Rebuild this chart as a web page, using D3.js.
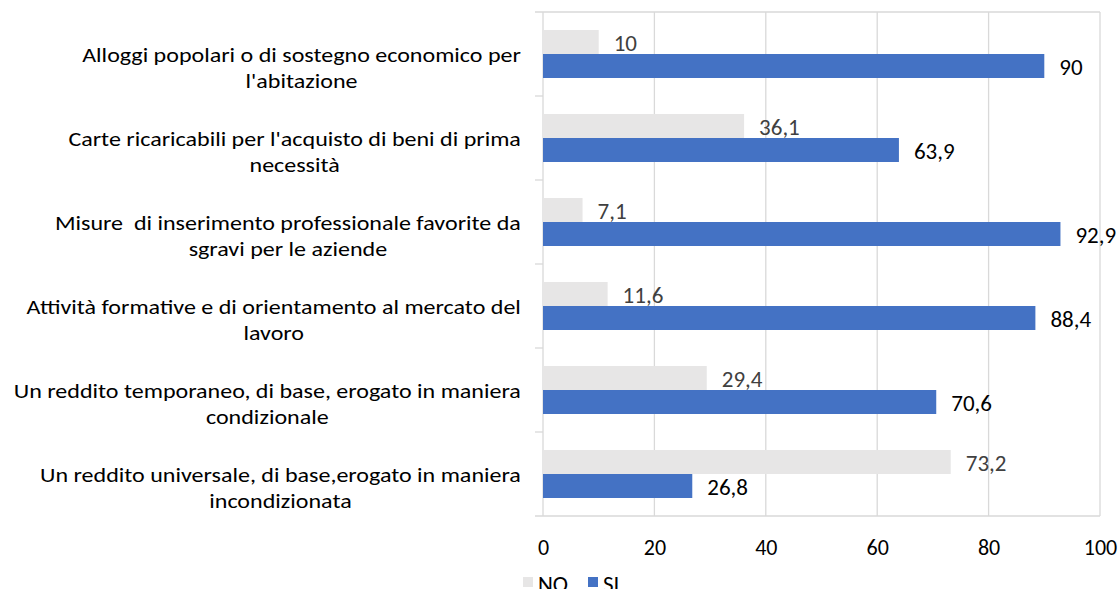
<!DOCTYPE html>
<html>
<head>
<meta charset="utf-8">
<script src="https://cdn.jsdelivr.net/npm/d3@7"></script>
<style>
  html, body { margin: 0; padding: 0; background: #fff; }
  svg { display: block; font-family: Carlito, Calibri, Lato, sans-serif; }
  .cat { white-space: pre; }
</style>
</head>
<body>
<svg id="chart" width="1119" height="589"></svg>
<script>
// Survey answers per measure (percent)
const categories = [
  ["Alloggi popolari o di sostegno economico per", "l'abitazione"],
  ["Carte ricaricabili per l'acquisto di beni di prima", "necessità"],
  ["Misure  di inserimento professionale favorite da", "sgravi per le aziende"],
  ["Attività formative e di orientamento al mercato del", "lavoro"],
  ["Un reddito temporaneo, di base, erogato in maniera", "condizionale"],
  ["Un reddito universale, di base,erogato in maniera", "incondizionata"]
];
const seriesNames = ["NO", "SI"];
const noValues = [10, 36.1, 7.1, 11.6, 29.4, 73.2];
const siValues = [90, 63.9, 92.9, 88.4, 70.6, 26.8];
const xTicks = [0, 20, 40, 60, 80, 100];

const colors = { NO: "#E7E6E6", SI: "#4472C4" };
const labelColors = { NO: "#404040", SI: "#000000" };

const svg = d3.select("#chart");
const plotLeft = 543, plotRight = 1100, plotTop = 12, plotBottom = 516;
const catFont = 21, catStretch = 1.145, valueFont = 23, tickFont = 22, legendFont = 23;
const gridColor = "#D9D9D9";

const x = d3.scaleLinear().domain([0, 100]).range([plotLeft, plotRight]);
const keys = categories.map((c, i) => i);
const y = d3.scaleBand().domain(keys).range([plotTop, plotBottom])
  .paddingInner(0.42857).paddingOuter(0.21429);
const ySub = d3.scaleBand().domain(seriesNames).range([0, y.bandwidth()]);

const rows = keys.map(i => ({ i, NO: noValues[i], SI: siValues[i] }));

// Vertical gridlines
svg.append("g")
  .selectAll("line")
  .data(xTicks.slice(1))
  .join("line")
  .attr("x1", d => x(d)).attr("x2", d => x(d))
  .attr("y1", plotTop).attr("y2", plotBottom)
  .attr("stroke", gridColor).attr("stroke-width", 1.3);

// Category axis: tick marks between groups, top and bottom edges run across the plot
const step = y.step();
const bounds = d3.range(categories.length + 1).map(k => plotTop + k * step);
svg.append("g")
  .selectAll("line")
  .data(bounds)
  .join("line")
  .attr("x1", plotLeft - 8)
  .attr("x2", (d, k) => (k === 0 || k === categories.length) ? plotRight : plotLeft)
  .attr("y1", d => d).attr("y2", d => d)
  .attr("stroke", gridColor).attr("stroke-width", 1.3);
svg.append("line")
  .attr("x1", plotLeft).attr("x2", plotLeft).attr("y1", plotTop).attr("y2", plotBottom)
  .attr("stroke", gridColor).attr("stroke-width", 1.3);

// Bars
const groups = svg.append("g").selectAll("g")
  .data(rows)
  .join("g")
  .attr("transform", d => `translate(0,${y(d.i)})`);

groups.selectAll("rect")
  .data(d => seriesNames.map(k => ({ k, v: d[k] })))
  .join("rect")
  .attr("x", x(0))
  .attr("y", d => ySub(d.k))
  .attr("width", d => x(d.v) - x(0))
  .attr("height", ySub.bandwidth())
  .attr("fill", d => colors[d.k]);

// Value labels, decimal comma
const fmt = v => String(v).replace(".", ",");
groups.selectAll("text")
  .data(d => seriesNames.map(k => ({ k, v: d[k] })))
  .join("text")
  .attr("x", d => x(d.v) + 15)
  .attr("y", d => ySub(d.k) + ySub.bandwidth() / 2 + 1)
  .attr("dy", "0.35em")
  .attr("font-size", valueFont)
  .attr("fill", d => labelColors[d.k])
  .text(d => fmt(d.v));

// Category labels: each block right-aligned at the axis, lines centred within it
const labelRight = 521;
categories.forEach((lines, i) => {
  const g = svg.append("g");
  const texts = lines.map((t, j) => g.append("text")
    .attr("class", "cat")
    .attr("font-size", catFont)
    .attr("fill", "#000")
    .attr("text-anchor", "middle")
    .attr("dy", "0.35em")
    .text(t));
  const w = d3.max(texts, t => t.node().getComputedTextLength()) * catStretch;
  texts.forEach((t, j) => t.attr("transform",
    `translate(${labelRight - w / 2},${y(i) + y.bandwidth() / 2 + 1 + j * 26}) scale(${catStretch},1)`));
});

// Value axis labels
const xAxis = d3.axisBottom(x).tickValues(xTicks).tickSize(0).tickPadding(0).tickFormat(d3.format("d"));
const ax = svg.append("g").attr("transform", `translate(0,${plotBottom + 31})`).call(xAxis);
ax.attr("font-family", null).attr("font-size", tickFont);
ax.select(".domain").remove();
ax.selectAll("text").attr("fill", "#000").attr("dy", "0.35em").attr("y", 0);

// Legend
const legend = svg.append("g").attr("transform", "translate(523,584)");
const items = [{ k: "NO", x: 0 }, { k: "SI", x: 65 }];
items.forEach(it => {
  legend.append("rect").attr("x", it.x).attr("y", -7).attr("width", 10).attr("height", 10)
    .attr("fill", colors[it.k]);
  legend.append("text").attr("x", it.x + 15).attr("y", 0).attr("dy", "0.35em")
    .attr("font-size", legendFont).attr("fill", "#000").text(it.k);
});
</script>
</body>
</html>
